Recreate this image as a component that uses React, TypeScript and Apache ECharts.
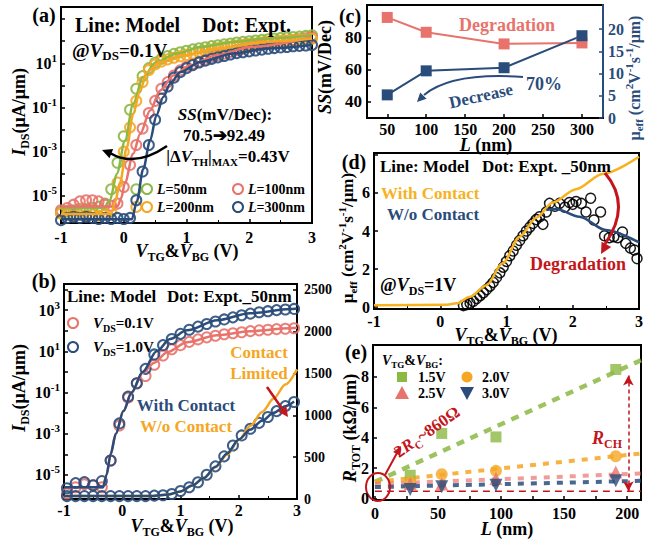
import { useEffect, useRef } from 'react';
import * as echarts from 'echarts';

const SERIF = '"Liberation Serif","Times New Roman",serif';
const C_GREEN = '#8cb844';
const C_RED = '#e8736c';
const C_ORANGE = '#f5a623';
const C_YEL = '#f7b21e';
const C_BLUE = '#2a4c7b';
const C_DRED = '#c3161c';

// ---------- (a) transfer curves, log10(I) ----------
const VA = [-1,-0.9,-0.8,-0.7,-0.6,-0.5,-0.4,-0.3,-0.2,-0.1,0,0.1,0.2,0.3,0.4,0.5,0.6,0.7,0.8,0.9,1,1.1,1.2,1.3,1.4,1.5,1.6,1.7,1.8,1.9,2,2.1,2.2,2.3,2.4,2.5,2.6,2.7,2.8,2.9,3];
const A_DOT_50 = [-5.75,-5.7,-5.65,-5.6,-5.6,-5.55,-5.5,-5.35,-4.7,-3.5,-2.3,-1.1,-0.15,0.42,0.78,1.03,1.2,1.33,1.43,1.5,1.57,1.63,1.68,1.73,1.78,1.82,1.86,1.9,1.94,1.97,2.0,2.03,2.06,2.09,2.12,2.15,2.17,2.19,2.21,2.24,2.27];
const A_DOT_100 = [-5.65,-5.55,-5.4,-5.25,-5.2,-5.2,-5.25,-5.4,-5.45,-5.35,-4.6,-3.6,-2.7,-1.95,-1.25,-0.7,-0.15,0.15,0.45,0.68,0.85,0.98,1.08,1.18,1.28,1.37,1.44,1.52,1.59,1.66,1.73,1.78,1.83,1.88,1.92,1.96,2.0,2.05,2.09,2.13,2.18];
const A_DOT_200 = [-5.8,-5.85,-5.9,-5.85,-5.9,-5.85,-5.9,-5.85,-5.7,-4.4,-3.0,-1.9,-0.7,0.15,0.7,0.95,1.08,1.18,1.25,1.32,1.38,1.43,1.5,1.55,1.62,1.68,1.72,1.76,1.8,1.84,1.87,1.9,1.94,1.97,1.99,2.01,2.03,2.05,2.07,2.09,2.11];
const A_DOT_300 = [-6.1,-6.0,-5.95,-6.0,-5.95,-6.0,-6.05,-6.0,-6.05,-6.0,-6.05,-6.0,-5.2,-3.9,-2.7,-1.55,-0.6,-0.05,0.35,0.6,0.78,0.92,1.04,1.12,1.2,1.27,1.33,1.4,1.46,1.5,1.54,1.58,1.62,1.66,1.69,1.72,1.74,1.77,1.79,1.81,1.83];
const A_OUT_50 = [[0.2, -4.7]];
const A_OUT_200 = [[0.2, -5.5]];
const A_MOD_50 = [[-1,-5.55],[-0.3,-5.55],[-0.22,-5.2],[-0.11,-4.0],[0.02,-2.5],[0.15,-0.83],[0.31,0.38],[0.52,1.06],[0.84,1.44],[1.22,1.74],[1.75,1.97],[2.28,2.12],[3,2.27]];
const A_MOD_100 = [[-1,-5.48],[-0.1,-5.48],[-0.04,-5.1],[0.02,-4.4],[0.15,-3.1],[0.26,-2.2],[0.42,-1.14],[0.58,-0.23],[0.79,0.45],[1.06,0.91],[1.48,1.36],[2.01,1.74],[3,2.18]];
const A_MOD_200 = [[-1,-5.82],[-0.2,-5.82],[-0.14,-5.3],[-0.06,-4.4],[0.05,-2.8],[0.15,-1.29],[0.26,-0.23],[0.37,0.6],[0.58,1.06],[0.95,1.36],[1.48,1.67],[2.28,1.97],[3,2.12]];
const A_MOD_300 = [[-1,-6.06],[0.13,-6.06],[0.21,-5.23],[0.31,-3.79],[0.42,-2.5],[0.52,-1.36],[0.63,-0.53],[0.74,0.08],[0.9,0.6],[1.22,1.06],[1.75,1.44],[2.28,1.67],[3,1.83]];

// ---------- (b) ----------
const VB = [-0.95,-0.8,-0.65,-0.5,-0.35,-0.2,-0.05,0.1,0.25,0.4,0.55,0.7,0.85,1.0,1.15,1.3,1.45,1.6,1.75,1.9,2.05,2.2,2.35,2.5,2.65,2.8,2.95];
const B_DOT_01 = [-5.9,-5.6,-5.45,-5.5,-5.6,-4.3,-2.6,-1.25,-0.55,-0.2,0.35,0.8,1.1,1.3,1.46,1.58,1.68,1.76,1.83,1.88,1.93,1.98,2.02,2.05,2.08,2.1,2.12];
const B_DOT_10 = [-5.65,-5.4,-5.35,-5.5,-5.3,-4.3,-2.5,-1.2,-0.55,0.15,0.85,1.3,1.6,1.85,2.05,2.2,2.33,2.45,2.55,2.65,2.75,2.83,2.9,2.95,3.0,3.03,3.06];
const B_DOT_LIN = [35,35,35,35,35,35,35,35,35,35,40,45,60,95,140,200,290,390,510,640,760,840,910,980,1050,1110,1160];
const B_MOD_10 = [[-1,-5.6],[-0.33,-5.6],[-0.27,-5.0],[-0.2,-4.0],[-0.11,-3.0],[0.02,-1.9],[0.16,-1.0],[0.35,0.0],[0.59,1.0],[0.82,1.6],[1.11,2.02],[1.63,2.51],[2.19,2.85],[2.88,3.05],[3,3.08]];
const B_MOD_01 = [[-1,-5.6],[-0.33,-5.6],[-0.27,-5.0],[-0.2,-4.0],[-0.11,-3.0],[0.02,-1.9],[0.16,-1.0],[0.35,-0.05],[0.55,0.45],[0.77,0.95],[1.11,1.44],[1.63,1.78],[2.19,1.98],[2.88,2.12],[3,2.14]];
const B_MOD_WO = [[-1,35],[0.5,35],[0.8,55],[1.0,90],[1.2,160],[1.4,250],[1.6,380],[1.8,530],[2.0,705],[2.2,875],[2.4,1040],[2.6,1200],[2.8,1370],[3.0,1550]];
const B_MOD_W = [[-1,35],[0.5,35],[0.8,55],[1.0,90],[1.2,160],[1.4,250],[1.6,385],[1.8,545],[2.0,710],[2.2,830],[2.4,935],[2.6,1030],[2.8,1110],[2.95,1165]];

// ---------- (c) ----------
const C_L = [50, 100, 200, 300];
const C_SS = [92.3, 83.1, 75.9, 76.5];
const C_MU = [5.2, 10.6, 11.3, 18.5];

// ---------- (d) ----------
const D_V = [0.35,0.4,0.45,0.5,0.55,0.6,0.65,0.7,0.75,0.8,0.85,0.9,0.95,1.0,1.05,1.1,1.15,1.2,1.25,1.3,1.35,1.4,1.45,1.5,1.55,1.6,1.65,1.73,1.8,1.88,1.95,2.0,2.05,2.13,2.2,2.27,2.32,2.42,2.48,2.55,2.62,2.68,2.75,2.8,2.87,2.93,2.97];
const D_MU = [0.08,0.13,0.2,0.3,0.45,0.6,0.75,0.92,1.1,1.3,1.55,1.8,2.1,2.4,2.7,2.95,3.25,3.5,3.75,4.0,4.2,4.4,4.6,4.75,4.35,5.0,5.45,5.3,5.45,5.25,5.5,5.4,5.55,5.45,5.0,5.72,4.58,5.0,3.75,3.65,3.7,3.65,3.95,3.35,3.1,3.0,2.55];
const D_MOD_W = [[-1,0.1],[0.1,0.12],[0.25,0.2],[0.44,0.53],[0.7,1.15],[0.94,2.3],[1.2,3.7],[1.45,4.7],[1.7,5.5],[2.05,6.2],[2.45,7.0],[3.0,7.9]];
const D_MOD_WO = [[1.6,5.1],[1.75,5.15],[2.1,4.75],[2.5,4.05],[3.0,3.4]];
const D_YTICKS = [0, 2, 4, 6];

// ---------- (e) ----------
const E_L = [28, 53, 96, 191];
const E_15 = [1.53, 4.28, 4.05, 8.49];
const E_20 = [1.09, 1.6, 1.82, 2.78];
const E_25 = [0.99, 0.95, 1.31, 1.75];
const E_30 = [0.59, 0.77, 0.87, 1.16];
const FIT_L = [0, 211];
const FIT_15 = [1.09, 9.1];
const FIT_20 = [1.09, 2.96];
const FIT_25 = [0.95, 1.64];
const FIT_30 = [0.75, 1.16];
const RC2 = 0.48;
const RCH_L = 201;
const RCH_TOP = 8.1;
const E_YTICKS = [0, 2, 4, 6, 8];

// layout of panels (d) and (e) and their y ranges
const GRID_D = { left: 374, top: 153, width: 266, height: 156 };
const GRID_E = { left: 373, top: 345, width: 268, height: 155 };
const D_YMIN = -0.1, D_YMAX = 8.1;
const E_YMIN = -0.1, E_YMAX = 10.1;

const zip = (xs: number[], ys: number[]) => xs.map((x, i) => [x, ys[i]]);

function rich(size: number, color: string) {
  const sm = Math.round(size * 0.66);
  const base: any = { fontFamily: SERIF, fontWeight: 'bold', fontSize: size, fill: color, color, lineHeight: size + 5 };
  const sub = { ...base, fontSize: sm, lineHeight: sm + 1, verticalAlign: 'bottom' };
  const sup = { ...base, fontSize: sm, lineHeight: sm + 1, verticalAlign: 'top' };
  return { n: base, i: { ...base, fontStyle: 'italic' }, b: sub, bi: { ...sub, fontStyle: 'italic' }, p: sup };
}
function T(x: number, y: number, text: string, size: number, color = '#000', align = 'center', rot = 0, z = 100) {
  return {
    type: 'text', x, y, rotation: rot, z, silent: true,
    style: { text, rich: rich(size, color), fill: color, font: `bold ${size}px ${SERIF}`, align, verticalAlign: 'middle' },
  };
}
function P(x: number, y: number, text: string, size: number) {
  return {
    type: 'text', x, y, z: 300, silent: true,
    style: { text, fill: '#000', font: `bold ${size}px ${SERIF}`, align: 'right', verticalAlign: 'middle' },
  };
}
function head(tx: number, ty: number, fx: number, fy: number, len: number, w: number, color: string) {
  const a = Math.atan2(ty - fy, tx - fx);
  const bx = tx - len * Math.cos(a), by = ty - len * Math.sin(a);
  const px = -Math.sin(a) * w, py = Math.cos(a) * w;
  return { type: 'polygon', z: 101, silent: true, shape: { points: [[tx, ty], [bx + px, by + py], [bx - px, by - py]] }, style: { fill: color } };
}
function curve(x1: number, y1: number, cx: number, cy: number, x2: number, y2: number, color: string, width: number) {
  return { type: 'bezierCurve', z: 100, silent: true, shape: { x1, y1, x2, y2, cpx1: cx, cpy1: cy }, style: { stroke: color, lineWidth: width, fill: 'none' } };
}
function seg(x1: number, y1: number, x2: number, y2: number, color: string, width: number) {
  return { type: 'line', z: 100, silent: true, shape: { x1, y1, x2, y2 }, style: { stroke: color, lineWidth: width } };
}
function ring(cx: number, cy: number, r: number, color: string) {
  return { type: 'circle', z: 100, silent: true, shape: { cx, cy, r }, style: { stroke: color, fill: 'none', lineWidth: 2 } };
}

const plain = (v: number) => String(v);
const tickFont = (size = 16, color = '#000', weight = 'bold') => ({ fontFamily: SERIF, fontSize: size, fontWeight: weight, color, formatter: plain, show: true });
const axBase = (color = '#000') => ({
  axisLine: { show: true, onZero: false, lineStyle: { color, width: 2 } },
  axisTick: { show: true, inside: true, length: 4, lineStyle: { color, width: 1.5 } },
  splitLine: { show: false },
});
const logLabel = (vals: number[], margin = 4) => ({
  customValues: vals, margin,
  formatter: (v: number) => `{n|10}{p|${Math.round(v)}}`,
  rich: {
    n: { fontFamily: SERIF, fontSize: 16, fontWeight: 'bold', color: '#000', lineHeight: 22 },
    p: { fontFamily: SERIF, fontSize: 11, fontWeight: 'bold', color: '#000', lineHeight: 12, verticalAlign: 'top' },
  },
});

const lineS = (data: any, color: string, xi: number, yi: number, width = 2.5, extra: any = {}) => ({
  type: 'line', data, xAxisIndex: xi, yAxisIndex: yi, showSymbol: false, symbol: 'none', silent: true,
  lineStyle: { color, width }, itemStyle: { color }, smooth: 0.3, smoothMonotone: 'x', z: 4, ...extra,
});
const dotS = (data: any, color: string, xi: number, yi: number, size = 10, bw = 2) => ({
  type: 'scatter', data, xAxisIndex: xi, yAxisIndex: yi, symbol: 'circle', symbolSize: size, silent: true,
  itemStyle: { color: 'rgba(0,0,0,0)', borderColor: color, borderWidth: bw, opacity: 0.9 }, z: 3,
});
const markS = (data: any, color: string, symbol: string, size: number, rotate = 0) => ({
  type: 'scatter', data, xAxisIndex: 4, yAxisIndex: 6, symbol, symbolSize: size, symbolRotate: rotate, silent: true,
  itemStyle: { color }, z: 5,
});

const I_LABEL = '{i|I}{b|DS}{n|(μA/μm)}';
const V_LABEL = '{i|V}{b|TG}{n|&}{i|V}{b|BG}{n| (V)}';
const MU_LABEL = '{n|μ}{b|eff}{n| (cm}{p|2}{n|V}{p|-1}{n|s}{p|-1}{n|/μm)}';
const R90 = Math.PI / 2;

export default function App() {
  const ref = useRef<HTMLDivElement>(null);
  useEffect(() => {
    const chart = echarts.init(ref.current!, null, { renderer: 'svg' });
    const tickTexts: any[] = [];
    D_YTICKS.forEach((v) => {
      const y = GRID_D.top + (GRID_D.height * (D_YMAX - v)) / (D_YMAX - D_YMIN);
      tickTexts.push(P(GRID_D.left - 4, y, String(v), 16));
    });
    E_YTICKS.forEach((v) => {
      const y = GRID_E.top + (GRID_E.height * (E_YMAX - v)) / (E_YMAX - E_YMIN);
      tickTexts.push(P(GRID_E.left - 4, y, String(v), 16));
    });
    const graphic: any[] = [
      // (a)
      T(44, 15, '{n|(a)}', 20),
      T(75, 25, '{n|Line: Model}', 20, '#000', 'left'),
      T(202, 25, '{n|Dot: Expt.}', 20, '#000', 'left'),
      T(72, 50, '{n|@}{i|V}{b|DS}{n|=0.1V}', 19, '#000', 'left'),
      T(225, 114, '{i|SS}{n|(mV/Dec):}', 17),
      T(224, 135, '{n|70.5➔92.49}', 17),
      T(228, 156, '{n||Δ}{i|V}{b|TH}{n||}{b|MAX}{n|=0.43V}', 17),
      curve(167, 146, 135, 168, 110, 153, '#000', 2.5),
      head(102, 150, 115, 155, 10, 5, '#000'),
      ring(147, 189, 5, C_GREEN), T(157, 189, '{i|L}{n|=50nm}', 14, '#000', 'left'),
      ring(238, 189, 5, C_RED), T(248, 189, '{i|L}{n|=100nm}', 14, '#000', 'left'),
      ring(147, 207, 5, C_ORANGE), T(157, 207, '{i|L}{n|=200nm}', 14, '#000', 'left'),
      ring(238, 207, 5, C_BLUE), T(248, 207, '{i|L}{n|=300nm}', 14, '#000', 'left'),
      T(19, 112, I_LABEL, 18, '#000', 'center', R90),
      T(187, 251, V_LABEL, 18),
      // (b)
      T(44, 281, '{n|(b)}', 20),
      T(67, 296, '{n|Line: Model}', 17, '#000', 'left'),
      T(167, 296, '{n|Dot: Expt._50nm}', 17, '#000', 'left'),
      ring(73, 323, 5, C_RED), T(93, 323, '{i|V}{b|DS}{n|=0.1V}', 15, '#000', 'left'),
      ring(73, 347, 5, C_BLUE), T(93, 347, '{i|V}{b|DS}{n|=1.0V}', 15, '#000', 'left'),
      T(259, 352, '{n|Contact}', 17, C_ORANGE),
      T(259, 373, '{n|Limited}', 17, C_ORANGE),
      seg(267, 387, 283, 410, C_DRED, 2.5),
      head(288, 417, 267, 387, 10, 5, C_DRED),
      T(186, 405, '{n|With Contact}', 17, C_BLUE),
      T(186, 426, '{n|W/o Contact}', 17, C_ORANGE),
      T(19, 388, I_LABEL, 18, '#000', 'center', R90),
      T(182, 526, V_LABEL, 18),
      // (c)
      T(350, 16, '{n|(c)}', 20),
      T(507, 25, '{n|Degradation}', 18, C_RED),
      T(481, 96, '{n|Decrease}', 17, C_BLUE, 'center', 0.22),
      T(544, 84, '{n|70%}', 18, C_BLUE),
      curve(523, 77, 452, 72, 424, 95, C_BLUE, 2),
      head(417, 102, 430, 89, 9, 4.5, C_BLUE),
      T(325, 67, '{i|SS}{n|(mV/Dec)}', 18, '#000', 'center', R90),
      T(634, 78, MU_LABEL, 16, C_BLUE, 'center', R90),
      T(486, 145, '{i|L}{n| (nm)}', 18),
      // (d)
      T(354, 162, '{n|(d)}', 20),
      T(380, 166, '{n|Line: Model}', 17, '#000', 'left'),
      T(482, 166, '{n|Dot: Expt. _50nm}', 17, '#000', 'left'),
      T(381, 193, '{n|With Contact}', 17, C_YEL, 'left'),
      T(387, 214, '{n|W/o Contact}', 17, C_BLUE, 'left'),
      T(578, 264, '{n|Degradation}', 18, C_DRED),
      T(380, 285, '{n|@}{i|V}{b|DS}{n|=1V}', 18, '#000', 'left'),
      curve(605, 173, 632, 205, 605, 244, C_DRED, 3),
      head(601, 254, 611, 236, 11, 5.5, C_DRED),
      T(347, 238, MU_LABEL, 17, '#000', 'center', R90, 50),
      T(506, 335, V_LABEL, 18),
      // (e)
      T(356, 352, '{n|(e)}', 20),
      T(382, 360, '{i|V}{b|TG}{n|&}{i|V}{b|BG}{n|:}', 14, '#000', 'left'),
      { type: 'rect', z: 100, silent: true, shape: { x: 397, y: 372, width: 10, height: 10 }, style: { fill: C_GREEN } },
      T(418, 377, '{n|1.5V}', 14, '#000', 'left'),
      { type: 'circle', z: 100, silent: true, shape: { cx: 467, cy: 377, r: 5.5 }, style: { fill: C_ORANGE } },
      T(482, 377, '{n|2.0V}', 14, '#000', 'left'),
      { type: 'polygon', z: 100, silent: true, shape: { points: [[402, 386], [409, 399], [395, 399]] }, style: { fill: C_RED } },
      T(418, 393, '{n|2.5V}', 14, '#000', 'left'),
      { type: 'polygon', z: 100, silent: true, shape: { points: [[460, 387], [474, 387], [467, 400]] }, style: { fill: C_BLUE } },
      T(482, 393, '{n|3.0V}', 14, '#000', 'left'),
      { type: 'ellipse', z: 100, silent: true, shape: { cx: 378, cy: 487, rx: 12, ry: 14 }, style: { stroke: C_DRED, fill: 'none', lineWidth: 2 } },
      seg(385, 475, 397, 453, C_DRED, 2),
      head(401, 446, 385, 475, 9, 4, C_DRED),
      T(427, 432, '{n|2}{i|R}{b|C}{n|~860Ω}', 17, C_DRED, 'center', 0.61),
      T(607, 438, '{i|R}{b|CH}', 18, C_DRED),
      T(350, 428, '{i|R}{b|TOT}{n| (kΩ/μm)}', 18, '#000', 'center', R90, 50),
      T(507, 529, '{i|L}{n| (nm)}', 18),
      ...tickTexts,
    ];

    const option: any = {
      animation: false,
      backgroundColor: '#fff',
      grid: [
        { left: 61, top: 7, width: 251, height: 216, show: true, borderColor: '#000', borderWidth: 2 },
        { left: 64, top: 284, width: 233, height: 215, show: true, borderColor: '#000', borderWidth: 2 },
        { left: 367, top: 5, width: 236, height: 113, show: true, borderColor: '#000', borderWidth: 2 },
        { ...GRID_D, show: true, borderColor: '#000', borderWidth: 2 },
        { ...GRID_E, show: true, borderColor: '#000', borderWidth: 2 },
      ],
      xAxis: [
        { type: 'value', gridIndex: 0, position: 'bottom', min: -1, max: 3, interval: 1, ...axBase(), minorTick: { show: true, splitNumber: 2, length: 3 }, axisLabel: { ...tickFont(), margin: 6 } },
        { type: 'value', gridIndex: 1, position: 'bottom', min: -1, max: 3, interval: 1, ...axBase(), minorTick: { show: true, splitNumber: 2, length: 3 }, axisLabel: { ...tickFont(), margin: 3 } },
        { type: 'value', gridIndex: 2, position: 'bottom', min: 24, max: 327, ...axBase(), axisLabel: { ...tickFont(), margin: 3, customValues: [50, 100, 150, 200, 250, 300] }, axisTick: { ...axBase().axisTick, customValues: [50, 100, 150, 200, 250, 300] } },
        { type: 'value', gridIndex: 3, position: 'bottom', min: -1, max: 3, interval: 1, ...axBase(), minorTick: { show: true, splitNumber: 2, length: 3 }, axisLabel: { ...tickFont(), margin: 4 } },
        { type: 'value', gridIndex: 4, position: 'bottom', min: -1.5, max: 211, ...axBase(), axisLabel: { ...tickFont(), margin: 5, customValues: [0, 50, 100, 150, 200] }, axisTick: { ...axBase().axisTick, customValues: [0, 25, 50, 75, 100, 125, 150, 175, 200] } },
      ],
      yAxis: [
        { type: 'value', gridIndex: 0, position: 'left', min: -6.23, max: 3.55, ...axBase(), axisLabel: logLabel([-5, -3, -1, 1]), axisTick: { ...axBase().axisTick, customValues: [-6, -5, -4, -3, -2, -1, 0, 1, 2, 3] } },
        { type: 'value', gridIndex: 1, position: 'left', min: -6.17, max: 4.27, ...axBase(), axisLabel: logLabel([-5, -3, -1, 1, 3]), axisTick: { ...axBase().axisTick, customValues: [-6, -5, -4, -3, -2, -1, 0, 1, 2, 3, 4] } },
        { type: 'value', gridIndex: 1, position: 'right', min: 0, max: 2570, ...axBase(), axisLabel: { ...tickFont(14), margin: 7, customValues: [0, 500, 1000, 1500, 2000, 2500] }, axisTick: { ...axBase().axisTick, customValues: [0, 500, 1000, 1500, 2000, 2500] } },
        { type: 'value', gridIndex: 2, position: 'left', min: 30, max: 100, ...axBase(), axisLabel: { ...tickFont(17), margin: 5, customValues: [40, 60, 80] }, axisTick: { ...axBase().axisTick, customValues: [40, 50, 60, 70, 80, 90] } },
        { type: 'value', gridIndex: 2, position: 'right', min: 0, max: 25.4, ...axBase(C_BLUE), axisLabel: { ...tickFont(16, C_BLUE), margin: 5, customValues: [0, 5, 10, 15, 20] }, axisTick: { ...axBase(C_BLUE).axisTick, customValues: [0, 5, 10, 15, 20] } },
        { type: 'value', gridIndex: 3, position: 'left', min: D_YMIN, max: D_YMAX, ...axBase(), axisLabel: { show: false }, axisTick: { ...axBase().axisTick, customValues: [0, 2, 4, 6, 8] } },
        { type: 'value', gridIndex: 4, position: 'left', min: E_YMIN, max: E_YMAX, ...axBase(), axisLabel: { show: false }, axisTick: { ...axBase().axisTick, customValues: [0, 2, 4, 6, 8] } },
      ],
      series: [
        // (a)
        dotS(zip(VA, A_DOT_50).concat(A_OUT_50), C_GREEN, 0, 0),
        dotS(zip(VA, A_DOT_100), C_RED, 0, 0),
        dotS(zip(VA, A_DOT_200).concat(A_OUT_200), C_ORANGE, 0, 0),
        dotS(zip(VA, A_DOT_300), C_BLUE, 0, 0),
        lineS(A_MOD_50, C_GREEN, 0, 0),
        lineS(A_MOD_100, C_RED, 0, 0),
        lineS(A_MOD_200, C_ORANGE, 0, 0),
        lineS(A_MOD_300, C_BLUE, 0, 0),
        // (b)
        dotS(zip(VB, B_DOT_01), C_RED, 1, 1),
        dotS(zip(VB, B_DOT_10), C_BLUE, 1, 1),
        dotS(zip(VB, B_DOT_LIN), C_BLUE, 1, 2),
        lineS(B_MOD_01, C_RED, 1, 1),
        lineS(B_MOD_10, C_BLUE, 1, 1),
        lineS(B_MOD_WO, C_ORANGE, 1, 2),
        lineS(B_MOD_W, C_BLUE, 1, 2),
        // (c)
        { type: 'line', data: zip(C_L, C_SS), xAxisIndex: 2, yAxisIndex: 3, symbol: 'rect', symbolSize: 11, silent: true, lineStyle: { color: C_RED, width: 2 }, itemStyle: { color: C_RED } },
        { type: 'line', data: zip(C_L, C_MU), xAxisIndex: 2, yAxisIndex: 4, symbol: 'rect', symbolSize: 11, silent: true, lineStyle: { color: C_BLUE, width: 2 }, itemStyle: { color: C_BLUE } },
        // (d)
        dotS(zip(D_V, D_MU), '#000', 3, 5, 10, 1.5),
        lineS(D_MOD_W, C_YEL, 3, 5, 2.5),
        lineS(D_MOD_WO, C_BLUE, 3, 5, 2.5),
        // (e)
        lineS(zip(FIT_L, FIT_15), C_GREEN, 4, 6, 4.5, { smooth: false, lineStyle: { color: C_GREEN, width: 4.5, type: [8, 7], opacity: 0.85 } }),
        lineS(zip(FIT_L, FIT_20), C_ORANGE, 4, 6, 4, { smooth: false, lineStyle: { color: C_ORANGE, width: 4, type: [6, 7], opacity: 0.85 } }),
        lineS(zip(FIT_L, FIT_25), C_RED, 4, 6, 4, { smooth: false, lineStyle: { color: C_RED, width: 4, type: [6, 7], opacity: 0.7 } }),
        lineS(zip(FIT_L, FIT_30), C_BLUE, 4, 6, 4, { smooth: false, lineStyle: { color: C_BLUE, width: 4, type: [6, 7], opacity: 0.85 } }),
        {
          type: 'line', data: zip(FIT_L, [RC2, RC2]), xAxisIndex: 4, yAxisIndex: 6, showSymbol: false, symbol: 'none', silent: true,
          lineStyle: { color: C_DRED, width: 1.5, type: [7, 5] }, z: 4,
          markLine: {
            silent: true, symbol: ['arrow', 'arrow'], symbolSize: [8, 10], label: { show: false },
            lineStyle: { color: C_DRED, width: 1.5, type: [4, 3] },
            data: [[{ coord: [RCH_L, RCH_TOP] }, { coord: [RCH_L, RC2] }]],
          },
        },
        markS(zip(E_L, E_15), C_GREEN, 'rect', 11),
        markS(zip(E_L, E_20), C_ORANGE, 'circle', 12),
        markS(zip(E_L, E_25), C_RED, 'triangle', 13),
        markS(zip(E_L, E_30), C_BLUE, 'triangle', 13, 180),
      ],
      graphic,
    };
    chart.setOption(option);
    return () => chart.dispose();
  }, []);
  return <div ref={ref} style={{ position: 'absolute', left: 0, top: 0, width: 646, height: 543, background: '#fff' }} />;
}
